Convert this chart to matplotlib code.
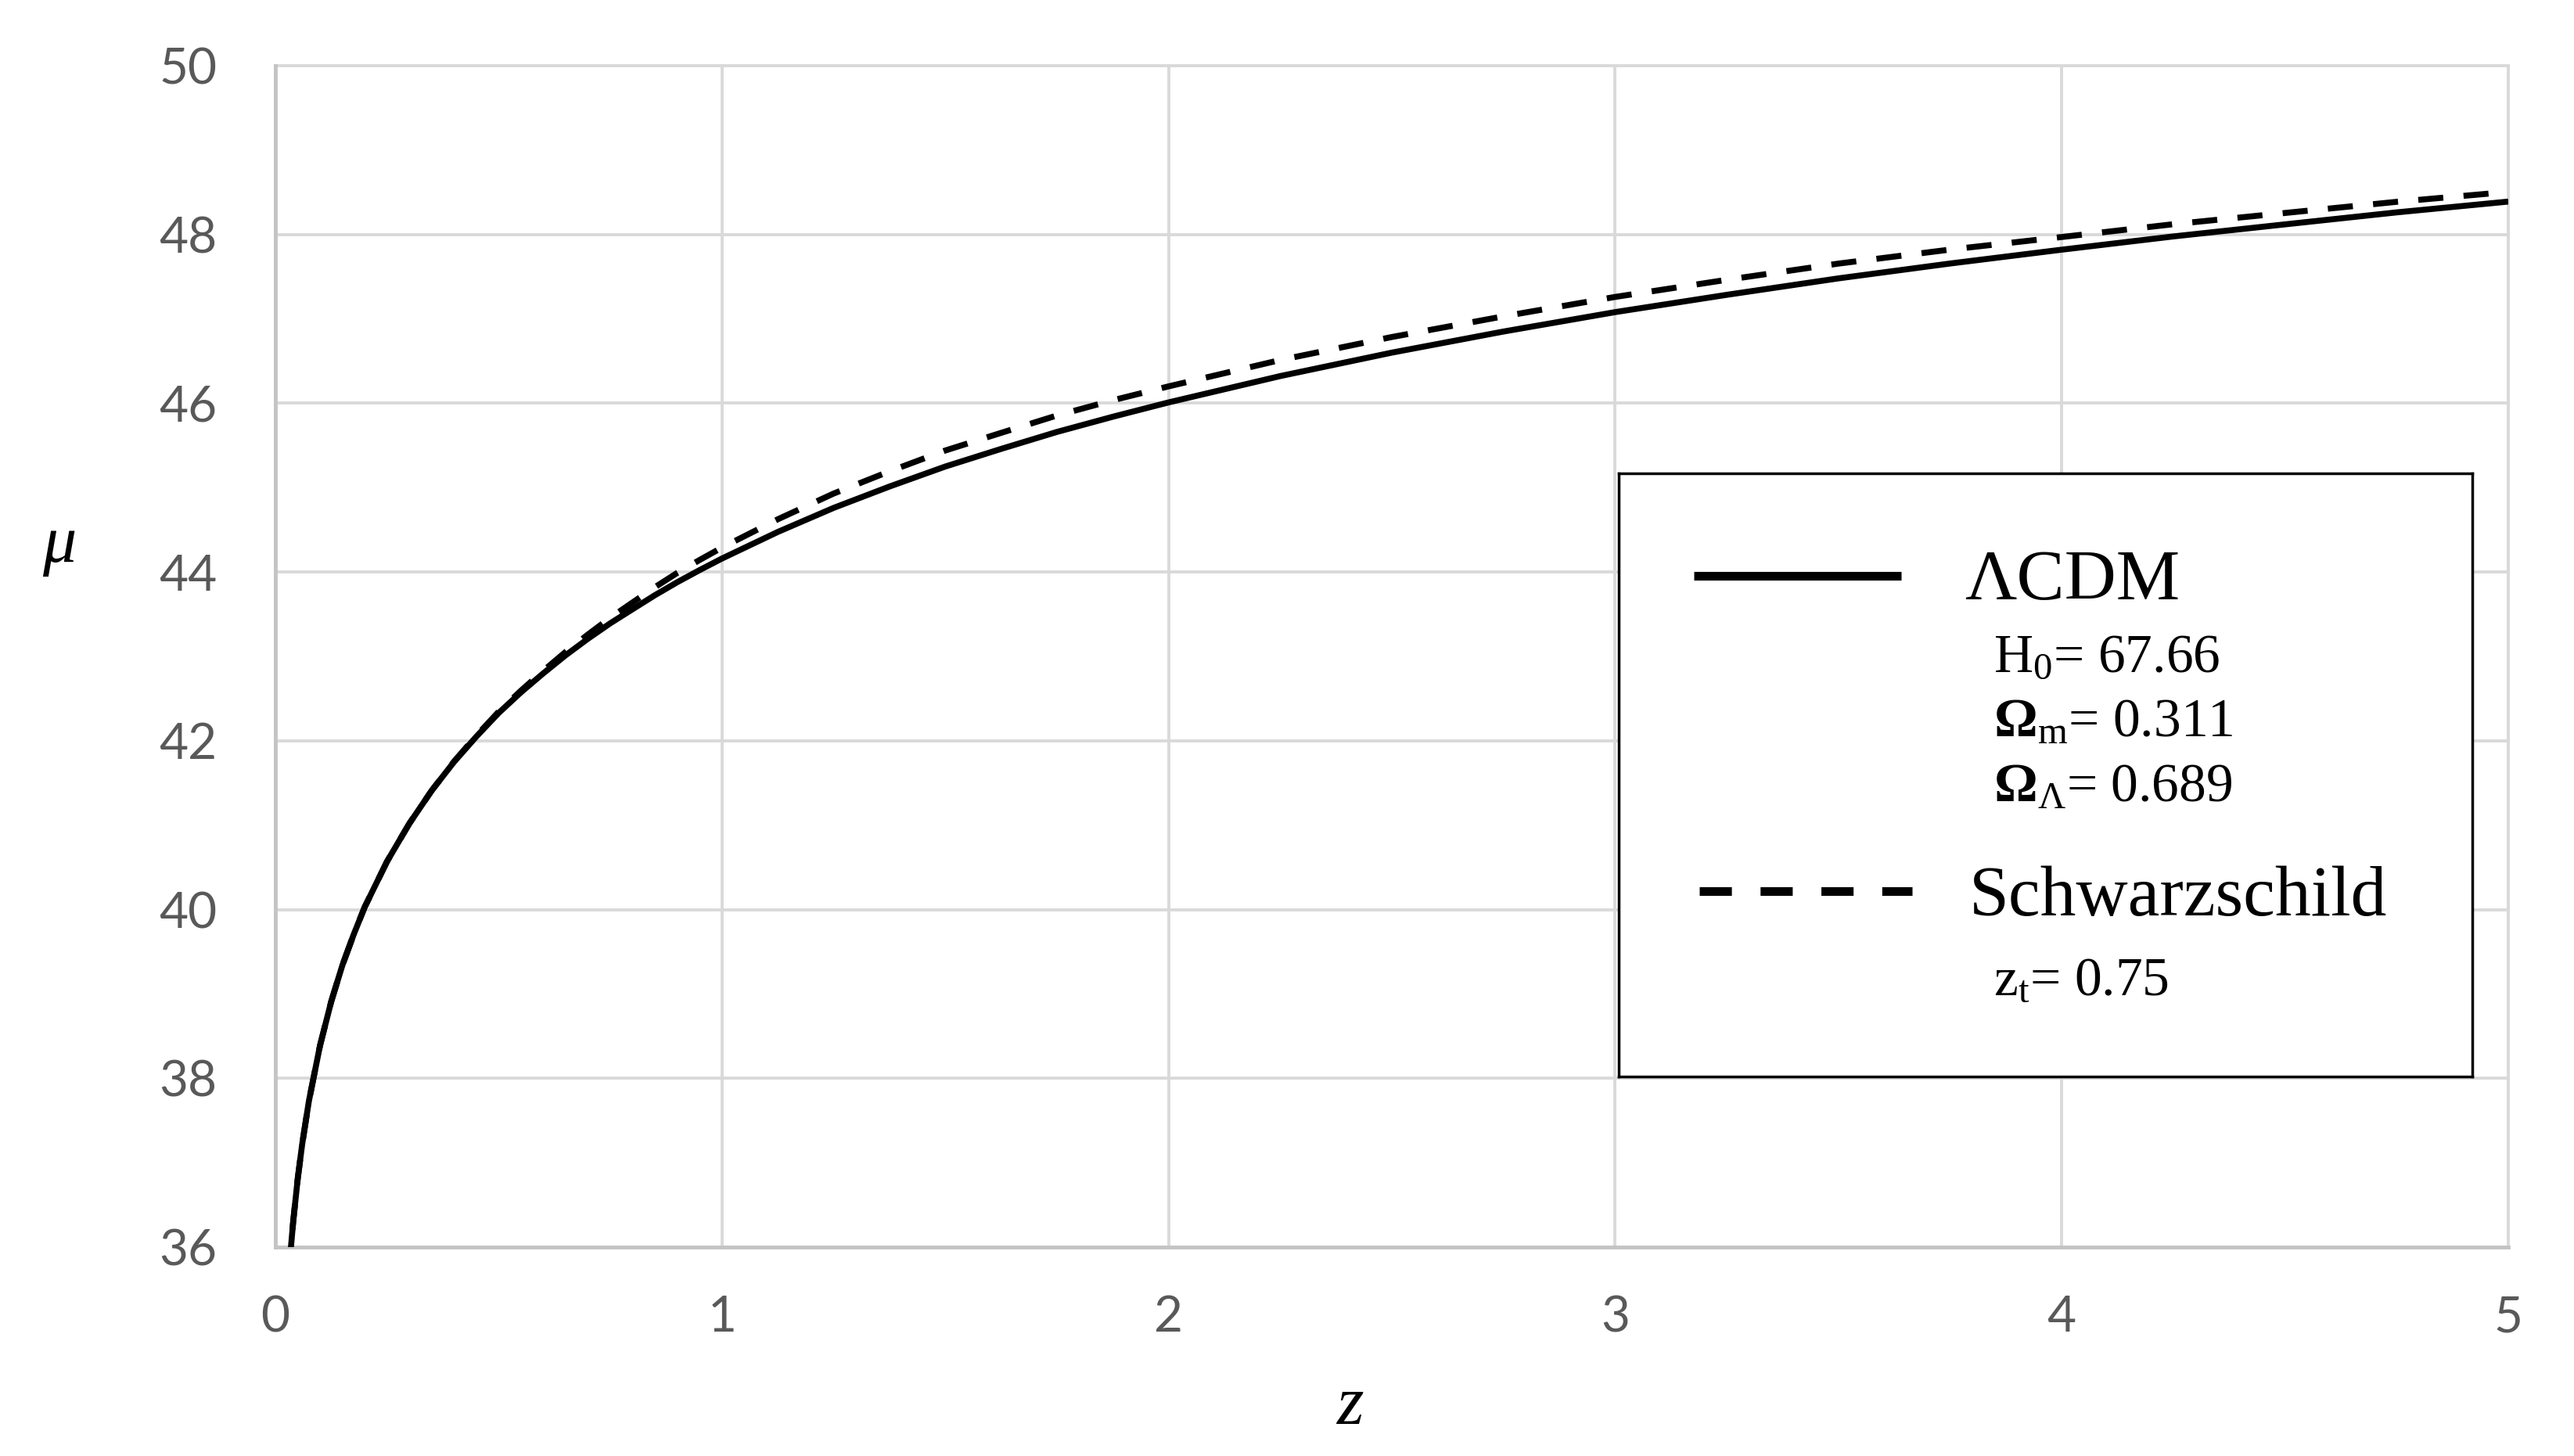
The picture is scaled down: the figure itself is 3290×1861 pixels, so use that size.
import matplotlib
matplotlib.use("Agg")
import matplotlib.pyplot as plt

# ---- data ----
z_vals = [0.03, 0.035, 0.04, 0.05, 0.06, 0.075, 0.1, 0.125, 0.15, 0.175, 0.2, 0.25, 0.3, 0.35,
          0.4, 0.45, 0.5, 0.55, 0.6, 0.65, 0.7, 0.75, 0.8, 0.85, 0.9, 0.95, 1.0, 1.125, 1.25,
          1.375, 1.5, 1.625, 1.75, 1.875, 2.0, 2.25, 2.5, 2.75,
          3.0, 3.25, 3.5, 3.75, 4.0, 4.25, 4.5, 4.75, 5.0]
mu_lcdm = [35.67, 36.01, 36.31, 36.81, 37.22, 37.73, 38.39, 38.91, 39.34, 39.70, 40.03, 40.57, 41.02, 41.41,
           41.75, 42.05, 42.33, 42.575, 42.80, 43.014, 43.21, 43.393, 43.56, 43.726, 43.88, 44.023, 44.16, 44.475, 44.76,
           45.013, 45.25, 45.459, 45.66, 45.84, 46.01, 46.322, 46.60, 46.85,
           47.08, 47.285, 47.48, 47.656, 47.82, 47.977, 48.12, 48.262, 48.39]
mu_schw = [35.67, 36.01, 36.31, 36.81, 37.22, 37.73, 38.39, 38.91, 39.34, 39.70, 40.03, 40.57, 41.02, 41.41,
           41.755, 42.06, 42.345, 42.595, 42.83, 43.054, 43.26, 43.458, 43.64, 43.821, 43.99, 44.143, 44.29, 44.625, 44.93,
           45.193, 45.44, 45.649, 45.855, 46.035, 46.20, 46.512, 46.785, 47.03,
           47.26, 47.463, 47.655, 47.821, 47.97, 48.122, 48.255, 48.387, 48.505]

x_ticks = [0, 1, 2, 3, 4, 5]
y_ticks = [36, 38, 40, 42, 44, 46, 48, 50]
series_names = ["\u039bCDM", "Schwarzschild"]
params_lcdm = [r"H$_{0}$= 67.66", r"$\mathbf{\Omega}_{\mathrm{m}}$= 0.311", r"$\mathbf{\Omega}_{\Lambda}$= 0.689"]
params_schw = [r"z$_{\mathrm{t}}$= 0.75"]

plt.rcParams["mathtext.fontset"] = "custom"
plt.rcParams["mathtext.rm"] = "Liberation Serif"
plt.rcParams["mathtext.it"] = "Liberation Serif:italic"
plt.rcParams["mathtext.bf"] = "Liberation Serif:bold"

W, H = 3290, 1861
fig = plt.figure(figsize=(W / 100, H / 100), dpi=100)
fig.patch.set_facecolor("white")

def fx(px):
    return px / W

def fy(py):
    return 1 - py / H

L, R, T, B = 352, 3206, 84, 1594
ax = fig.add_axes([fx(L), fy(B), (R - L) / W, (B - T) / H])

ax.plot(z_vals, mu_lcdm, color="black", lw=5.5, solid_capstyle="butt",
        solid_joinstyle="round", zorder=3)
ax.plot(z_vals, mu_schw, color="black", lw=5.5, dashes=(4.2, 3.4), dash_capstyle="butt", zorder=4)

ax.set_xlim(0, 5)
ax.set_ylim(36, 50)
ax.set_xticks(x_ticks)
ax.set_yticks(y_ticks)
ax.set_xticklabels([str(v) for v in x_ticks])
ax.set_yticklabels([str(v) for v in y_ticks])

ax.grid(True, color="#d9d9d9", lw=2.8)
ax.set_axisbelow(True)
for gl in ax.get_xgridlines() + ax.get_ygridlines():
    gl.set_clip_on(False)

for s in ["top", "right"]:
    ax.spines[s].set_visible(False)
for s in ["left", "bottom"]:
    ax.spines[s].set_color("#c4c4c4")
    ax.spines[s].set_linewidth(3.5)

ax.tick_params(axis="both", length=0, labelcolor="#595959", labelsize=46)
ax.tick_params(axis="x", pad=44)
ax.tick_params(axis="y", pad=54)
for lab in ax.get_xticklabels() + ax.get_yticklabels():
    lab.set_fontfamily("Lato")

fig.text(fx(76), fy(697), "\u03bc", fontsize=62, fontstyle="italic",
         family="Liberation Serif", ha="center", va="center")
fig.text(fx(1726), fy(1798), "z", fontsize=64, fontstyle="italic",
         family="Liberation Serif", ha="center", va="center")

# ---- legend box ----
LX0, LX1, LY0, LY1 = 2069, 3160, 605, 1376
lax = fig.add_axes([fx(LX0), fy(LY1), (LX1 - LX0) / W, (LY1 - LY0) / H])
lax.set_xlim(LX0, LX1)
lax.set_ylim(LY1, LY0)
lax.set_xticks([])
lax.set_yticks([])
lax.set_facecolor("white")
for s in lax.spines.values():
    s.set_linewidth(2.5)
    s.set_color("black")

lax.plot([2165, 2430], [736, 736], color="black", lw=8, solid_capstyle="butt")
lax.plot([2172, 2444], [1139, 1139], color="black", lw=8, dashes=(3.7, 3.3), dash_capstyle="butt")

serif = "Liberation Serif"
lax.text(2511, 766, series_names[0], fontsize=66, family=serif, va="baseline", ha="left")
lax.text(2517, 1170, series_names[1], fontsize=66, family=serif, va="baseline", ha="left")
for txt, yb in zip(params_lcdm, [858, 941, 1024]):
    lax.text(2548, yb, txt, fontsize=50, family=serif, va="baseline", ha="left")
for txt, yb in zip(params_schw, [1271]):
    lax.text(2548, yb, txt, fontsize=50, family=serif, va="baseline", ha="left")

fig.savefig("out.png", dpi=100, facecolor="white")
